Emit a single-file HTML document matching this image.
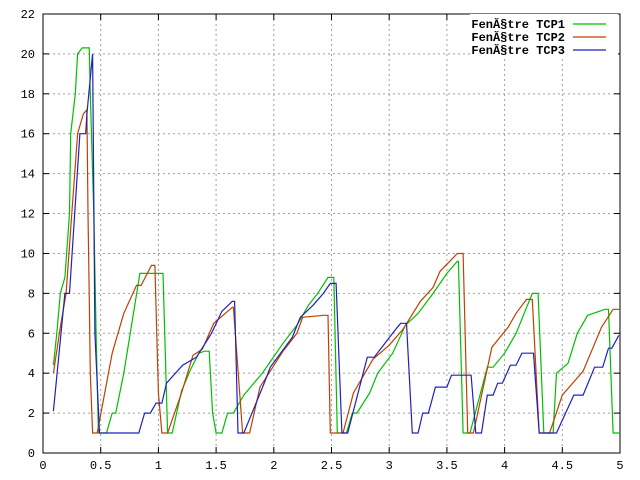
<!DOCTYPE html>
<html><head><meta charset="utf-8"><style>
body{margin:0;background:#fff}
svg{display:block;font-family:"Liberation Mono","DejaVu Sans Mono",monospace;font-size:12px}
</style></head><body>
<svg id="chart" width="640" height="480">
<g id="grid"></g>
<g id="axes"></g>
<g id="series"></g>
<g id="legend"></g>
</svg>
<script>
const xTicks=[0,0.5,1,1.5,2,2.5,3,3.5,4,4.5,5];
const xTickLabels=["0","0.5","1","1.5","2","2.5","3","3.5","4","4.5","5"];
const yTicks=[0,2,4,6,8,10,12,14,16,18,20,22];
const seriesNames=["FenĂ§tre TCP1","FenĂ§tre TCP2","FenĂ§tre TCP3"];
const seriesColors=["#00c000","#c04000","#2020c0"];
const tcp1X=[0.09,0.12,0.15,0.19,0.23,0.24,0.28,0.30,0.34,0.40,0.41,0.44,0.46,0.48,0.55,0.60,0.63,0.70,0.84,1.04,1.08,1.12,1.20,1.28,1.35,1.40,1.44,1.47,1.50,1.55,1.60,1.65,1.74,1.90,2.08,2.20,2.30,2.38,2.47,2.52,2.55,2.63,2.68,2.72,2.83,2.90,3.03,3.14,3.25,3.38,3.50,3.59,3.60,3.64,3.70,3.85,3.90,4.00,4.10,4.17,4.24,4.29,4.34,4.42,4.45,4.55,4.63,4.72,4.87,4.90,4.94,5.0];
const tcp1Y=[4.4,6,8,8.8,12,16,18,20,20.3,20.3,18,12,6,1,1,2,2,4,9,9,1,1,3.1,4.2,5,5.1,5.1,2,1,1,2,2,2.9,4,5.5,6.4,7.4,8,8.8,8.8,1,1,2,2,3,4,5,6.4,7,8,9,9.6,9.6,1,1,4.3,4.3,5,6,7,8,8,1,1,4,4.5,6,6.9,7.2,7.2,1,1];
const tcp2X=[0.09,0.15,0.20,0.25,0.30,0.35,0.38,0.39,0.40,0.41,0.43,0.47,0.60,0.70,0.81,0.85,0.94,0.97,1.00,1.03,1.08,1.20,1.30,1.38,1.48,1.64,1.65,1.73,1.79,1.88,2.08,2.20,2.25,2.43,2.47,2.49,2.60,2.69,2.86,3.00,3.12,3.27,3.38,3.44,3.59,3.64,3.68,3.73,3.89,4.03,4.10,4.19,4.24,4.30,4.39,4.50,4.68,4.84,4.94,5.0];
const tcp2Y=[4,6.3,8,12,16,17,17.2,12,8,4,1,1,5,7,8.4,8.4,9.4,9.4,3,1,1,3,4.9,5.2,6.5,7.3,7.3,1,1,3.3,5.1,6.0,6.8,6.9,6.9,1,1,3,4.7,5.4,6.2,7.6,8.3,9.1,10,10,1,1,5.3,6.3,7.0,7.7,7.7,1,1,2.9,4.1,6.3,7.2,7.2];
const tcp3X=[0.09,0.19,0.23,0.32,0.37,0.38,0.43,0.45,0.49,0.83,0.88,0.93,0.98,1.03,1.07,1.21,1.33,1.46,1.55,1.64,1.66,1.69,1.74,1.91,1.97,2.16,2.23,2.34,2.43,2.49,2.54,2.59,2.64,2.81,2.87,3.07,3.10,3.15,3.20,3.25,3.29,3.34,3.40,3.50,3.54,3.71,3.75,3.80,3.85,3.90,3.94,3.98,4.05,4.10,4.15,4.25,4.30,4.45,4.60,4.68,4.78,4.85,4.90,4.93,4.99];
const tcp3Y=[2.1,8,8,16,16,17,20,6,1,1,2,2,2.5,2.5,3.5,4.4,4.8,6,7.1,7.6,7.6,1,1,3.4,4.3,5.8,6.8,7.4,8.0,8.5,8.5,1,1,4.8,4.8,6.3,6.5,6.5,1,1,2,2,3.3,3.3,3.9,3.9,1,1,2.9,2.9,3.5,3.5,4.4,4.4,5.0,5.0,1,1,2.9,2.9,4.3,4.3,5.25,5.25,5.9];
const seriesX=[tcp1X,tcp2X,tcp3X], seriesY=[tcp1Y,tcp2Y,tcp3Y];

const L=43,R=620,T=14,B=453,xMax=5,yMax=22;
const sx=v=>L+v/xMax*(R-L), sy=v=>B-v/yMax*(B-T);
const NS="http://www.w3.org/2000/svg";
function mk(tag,parent,attrs){const e=document.createElementNS(NS,tag);for(const k in attrs)e.setAttribute(k,attrs[k]);parent.appendChild(e);return e;}
const grid=document.getElementById('grid'),axes=document.getElementById('axes'),ser=document.getElementById('series'),leg=document.getElementById('legend');
xTicks.forEach((t,i)=>{
  const x=sx(t);
  if(i>0&&i<xTicks.length-1){const g=mk('line',grid,{x1:x,x2:x,y1:T,y2:B,stroke:'#a0a0a0','stroke-dasharray':'2,3'});
  
  }
  mk('line',axes,{x1:x,x2:x,y1:B,y2:B-6,stroke:'#000'});
  mk('line',axes,{x1:x,x2:x,y1:T,y2:T+6,stroke:'#000'});
  const tx=mk('text',axes,{x:x,y:B+16,'text-anchor':'middle',fill:'#000'});
  tx.textContent=xTickLabels[i];
  
  
});
yTicks.forEach((t,i)=>{
  const y=sy(t);
  if(i>0&&i<yTicks.length-1){const g=mk('line',grid,{x1:L,x2:R,y1:y,y2:y,stroke:'#a0a0a0','stroke-dasharray':'2,3'});
  
  }
  mk('line',axes,{x1:L,x2:L+6,y1:y,y2:y,stroke:'#000'});
  mk('line',axes,{x1:R,x2:R-6,y1:y,y2:y,stroke:'#000'});
  const tx=mk('text',axes,{x:L-8,y:y+4,'text-anchor':'end',fill:'#000'});
  tx.textContent=String(t);
  
  
});
const frame=mk('rect',axes,{x:L,y:T,width:R-L,height:B-T,fill:'none',stroke:'#000'});


mk('rect',leg,{x:470,y:14,width:148,height:44,fill:'#fff'});
seriesX.forEach((xs,s)=>{
  const pts=xs.map((x,i)=>sx(x).toFixed(1)+','+sy(seriesY[s][i]).toFixed(1)).join(' ');
  const pl=mk('polyline',ser,{points:pts,fill:'none',stroke:seriesColors[s],'stroke-width':1.2});
  
  
  const ly=24+s*13;
  const t=mk('text',leg,{x:565,y:ly+4,'text-anchor':'end',fill:'#000','font-weight':'bold'});
  t.textContent=seriesNames[s];
  
  
  const ln=mk('line',leg,{x1:573,x2:606,y1:ly,y2:ly,stroke:seriesColors[s],'stroke-width':1.2});
  
  
});
</script>
</body></html>
